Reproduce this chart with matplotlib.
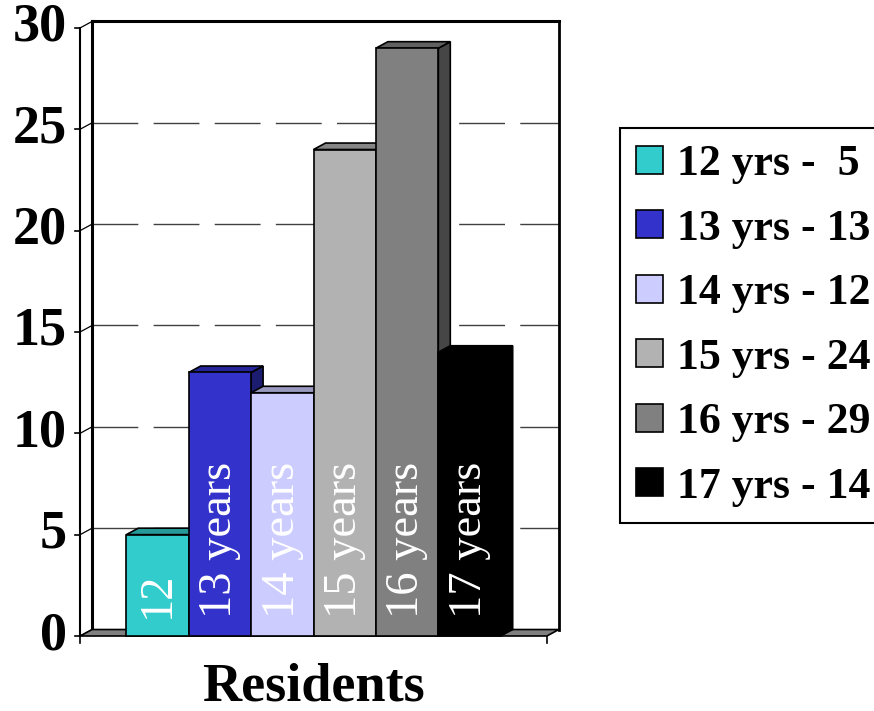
import matplotlib.pyplot as plt
from matplotlib.patches import Polygon, Patch
from matplotlib.colors import to_rgb

# residents by age
ages = ['12', '13', '14', '15', '16', '17']
residents = [5, 13, 12, 24, 29, 14]
bar_text = ['12', '13 years', '14 years', '15 years', '16 years', '17 years']
legend_text = ['12 yrs -  5', '13 yrs - 13', '14 yrs - 12',
               '15 yrs - 24', '16 yrs - 29', '17 yrs - 14']
colors = ['#33CCCC', '#3333CC', '#CCCCFF', '#B2B2B2', '#808080', '#000000']
yticks = [0, 5, 10, 15, 20, 25, 30]

serif = 'Liberation Serif'


def shade(c, f):
    r, g, b = to_rgb(c)
    return (r * f, g * f, b * f)


fig = plt.figure(figsize=(8.74, 7.11), dpi=100)
ax = fig.add_axes([0, 0, 1, 1])
ax.set_xlim(-2.524, 11.482)
ax.set_ylim(-3.70, 31.377)
ax.axis('off')

# fake 3d depth
dx, dy = 0.192, 0.32
x0, x1 = -1.24, len(ages) - 1 + 1.24
top = yticks[-1]

# back wall gridlines
for t in yticks[1:-1]:
    ax.plot([x0 + dx, x1 + dx], [t + dy, t + dy], color='#404040', lw=1.0,
            dashes=(33, 11), zorder=1)

# walls
ax.plot([x0 + dx, x1 + dx], [top + dy, top + dy], color='k', lw=2.2, zorder=2)
ax.plot([x1 + dx, x1 + dx], [dy, top + dy], color='k', lw=2.0, zorder=2)
ax.plot([x0 + dx, x0 + dx], [dy, top + dy], color='k', lw=2.2, zorder=2)
ax.plot([x0, x0], [0, top], color='k', lw=1.5, zorder=2)
for t in yticks:
    ax.plot([x0, x0 + dx], [t, t + dy], color='k', lw=0.9, zorder=2)
    ax.plot([x0 - 0.08, x0], [t, t], color='k', lw=1.2, zorder=2)
    ax.text(x0 - 0.21, t, str(t), ha='right', va='center', family=serif,
            weight='bold', fontsize=39)
for x in (x0, x1):
    ax.plot([x, x], [0, -0.35], color='k', lw=1.2, zorder=2)

# floor
ax.add_patch(Polygon([(x0, 0), (x1, 0), (x1 + dx, dy), (x0 + dx, dy)],
                     fc='#808080', ec='k', lw=1.2, zorder=3))

# bars
for i, (v, c) in enumerate(zip(residents, colors)):
    l, r = i - 0.5, i + 0.5
    z = 4 + i
    ax.add_patch(Polygon([(r, 0), (r, v), (r + dx, v + dy), (r + dx, dy)],
                         fc=shade(c, 0.55), ec='k', lw=1.2, zorder=z))
    ax.add_patch(Polygon([(l, v), (r, v), (r + dx, v + dy), (l + dx, v + dy)],
                         fc=shade(c, 0.75), ec='k', lw=1.2, zorder=z))
    ax.add_patch(Polygon([(l, 0), (r, 0), (r, v), (l, v)],
                         fc=c, ec='k', lw=1.2, zorder=z))
    ax.text(i, 0.9, bar_text[i], rotation=90, ha='center', va='bottom',
            color='white', family=serif, fontsize=33.5, zorder=20)

ax.text((x0 + x1) / 2, -3.16, 'Residents', ha='center', va='baseline',
        family=serif, weight='bold', fontsize=39)

handles = [Patch(fc=c, ec='k', lw=1.2, label=t) for c, t in zip(colors, legend_text)]
leg = ax.legend(handles=handles, loc='upper left',
                bbox_to_anchor=(620 / 874, 1 - 128 / 711),
                bbox_transform=fig.transFigure, borderaxespad=0,
                fancybox=False, framealpha=1, edgecolor='k',
                prop={'family': serif, 'weight': 'bold', 'size': 31.5},
                handlelength=0.62, handleheight=0.62, handletextpad=0.32,
                labelspacing=0.56, borderpad=0.37)
leg.get_frame().set_linewidth(1.5)

fig.savefig('out.png', dpi=100)
